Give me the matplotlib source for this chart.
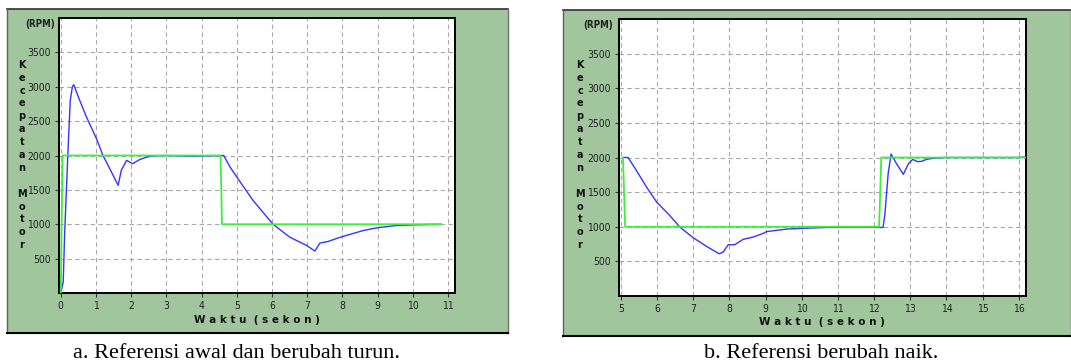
import matplotlib
matplotlib.use("Agg")
import matplotlib.pyplot as plt
from matplotlib import font_manager
from matplotlib.patches import Rectangle
from matplotlib.lines import Line2D

# ---------------- data ----------------
yticks = [500, 1000, 1500, 2000, 2500, 3000, 3500]
xticks_a = list(range(0, 12))
xticks_b = list(range(5, 17))

t_ref_a = [0, 0.05, 4.54, 4.58, 10.8]
v_ref_a = [0, 2000, 2000, 1000, 1000]
t_spd_a = [0, 0.07, 0.11, 0.16, 0.21, 0.27, 0.33, 0.37, 0.45, 0.54, 0.73, 1.01,
           1.2, 1.39, 1.63, 1.72, 1.87, 2.04, 2.24, 2.43, 2.62, 3.0, 3.7, 3.8,
           4.63, 4.8, 5.0, 5.46, 6.03, 6.5, 6.98, 7.22, 7.36, 7.6, 7.9, 8.2,
           8.6, 9.0, 9.5, 10.0, 10.8]
v_spd_a = [0, 160, 860, 1500, 2120, 2800, 3000, 3030, 2920, 2800, 2560, 2250,
           2000, 1810, 1566, 1785, 1930, 1880, 1940, 1975, 1995, 2000, 1990, 1990,
           2000, 1840, 1687, 1348, 1000, 814, 693, 610, 726, 750, 805, 850,
           910, 950, 980, 990, 1000]

t_ref_b = [5.06, 5.12, 12.14, 12.2, 16.2]
v_ref_b = [2000, 1000, 1000, 2000, 2000]
t_spd_b = [5.06, 5.2, 5.43, 5.71, 5.99, 6.35, 6.63, 7.0, 7.37, 7.72, 7.83, 7.97,
           8.15, 8.38, 8.66, 8.94, 9.03, 9.58, 9.95, 10.69, 11.5, 12.25, 12.3,
           12.39, 12.47, 12.62, 12.81, 12.95, 13.07, 13.2, 13.32, 13.45, 13.64,
           14.0, 16.0, 16.2]
v_spd_b = [2000, 2000, 1814, 1573, 1357, 1164, 996, 842, 716, 610, 635, 741,
           741, 818, 851, 905, 930, 966, 976, 990, 995, 990, 1188,
           1766, 2050, 1911, 1757, 1911, 1973, 1940, 1945, 1973, 1990,
           2000, 2000, 2010]

captions = ["a. Referensi awal dan berubah turun.", "b. Referensi berubah naik."]
ylabel_txt = "K\ne\nc\ne\np\na\nt\na\nn\n\nM\no\nt\no\nr"
xlabel_txt = "W a k t u  ( s e k o n )"

# ---------------- fonts ----------------
avail = {f.name for f in font_manager.fontManager.ttflist}
narrow = [f for f in ["Liberation Sans Narrow", "DejaVu Sans"] if f in avail][0]
serif = [f for f in ["Liberation Serif", "DejaVu Serif"] if f in avail][0]
tick_stretch = "normal" if narrow != "DejaVu Sans" else "condensed"

W, H = 1071, 362
fig = plt.figure(figsize=(W / 100, H / 100), dpi=100)
fig.patch.set_facecolor("white")

def fx(px):
    return px / W

def fy(py):
    return 1 - py / H

BG = "#a1c69e"
BLUE = "#3535ff"
GREEN = "#3cf03c"

def panel(x0, y0, x1, y1):
    fig.patches.append(Rectangle((fx(x0), fy(y1)), fx(x1) - fx(x0), fy(y0) - fy(y1),
                                 transform=fig.transFigure, facecolor=BG,
                                 edgecolor="none", zorder=-2))
    for xs, ys, c, lw in [([x0, x1], [y0, y0], "#303030", 1.2),
                          ([x0, x0], [y0, y1], "#606060", 1.0),
                          ([x1, x1], [y0, y1], "#707070", 1.0),
                          ([x0, x1], [y1, y1], "black", 1.5)]:
        fig.lines.append(Line2D([fx(v) for v in xs], [fy(v) for v in ys],
                                transform=fig.transFigure, color=c, lw=lw, zorder=-1))

panel(7, 9, 508, 333)
panel(563, 10, 1071, 336)

def make_axes(box, xlim, xticks, t_ref, v_ref, t_spd, v_spd, rpm_xy, ylab_x, xlab_xy):
    x0, y0, x1, y1 = box
    ax = fig.add_axes([fx(x0), fy(y1), fx(x1) - fx(x0), fy(y0) - fy(y1)])
    ax.set_zorder(1)
    ax.set_facecolor("white")
    ax.set_xlim(*xlim)
    ax.set_ylim(0, 4000)
    ax.set_xticks(xticks)
    ax.set_yticks(yticks)
    ax.grid(True, color="#a8a8a8", linestyle=(0, (4, 3)), linewidth=0.8)
    ax.set_axisbelow(True)
    ax.plot(t_spd, v_spd, color=BLUE, lw=1.0, zorder=3)
    ax.plot(t_ref, v_ref, color=GREEN, lw=1.3, zorder=4)
    for s in ax.spines.values():
        s.set_color("black")
        s.set_linewidth(1.4)
    ax.tick_params(axis="both", direction="out", length=3, width=0.8, color="#333333",
                   labelsize=7.5, labelcolor="#202020", pad=3)
    for lab in ax.get_xticklabels() + ax.get_yticklabels():
        lab.set_family([narrow, "DejaVu Sans"])
        lab.set_fontstretch(tick_stretch)
    fig.text(fx(rpm_xy[0]), fy(rpm_xy[1]), "(RPM)", ha="center", va="center",
             fontsize=7, fontweight="bold", family=[narrow, "DejaVu Sans"],
             fontstretch=tick_stretch, color="#202020", zorder=5)
    fig.text(fx(ylab_x), fy(155), ylabel_txt, ha="center", va="center",
             fontsize=7, fontweight="bold", family="DejaVu Sans", linespacing=1.36,
             color="#101010", zorder=5)
    fig.text(fx(xlab_xy[0]), fy(xlab_xy[1]), xlabel_txt, ha="center", va="center",
             fontsize=7.5, fontweight="bold", family="DejaVu Sans", color="#101010",
             zorder=5)
    return ax

make_axes((59, 18, 455, 293), (-0.05, 11.2), xticks_a, t_ref_a, v_ref_a,
          t_spd_a, v_spd_a, (40, 24), 22, (257, 320))
make_axes((619, 19, 1026, 296), (4.95, 16.2), xticks_b, t_ref_b, v_ref_b,
          t_spd_b, v_spd_b, (598, 25), 580, (822, 322))

fig.text(fx(73), fy(358), captions[0], ha="left", va="baseline", fontsize=16,
         family=serif, color="black")
fig.text(fx(704), fy(358), captions[1], ha="left", va="baseline", fontsize=16,
         family=serif, color="black")

fig.savefig("out.png", dpi=100, facecolor="white")
